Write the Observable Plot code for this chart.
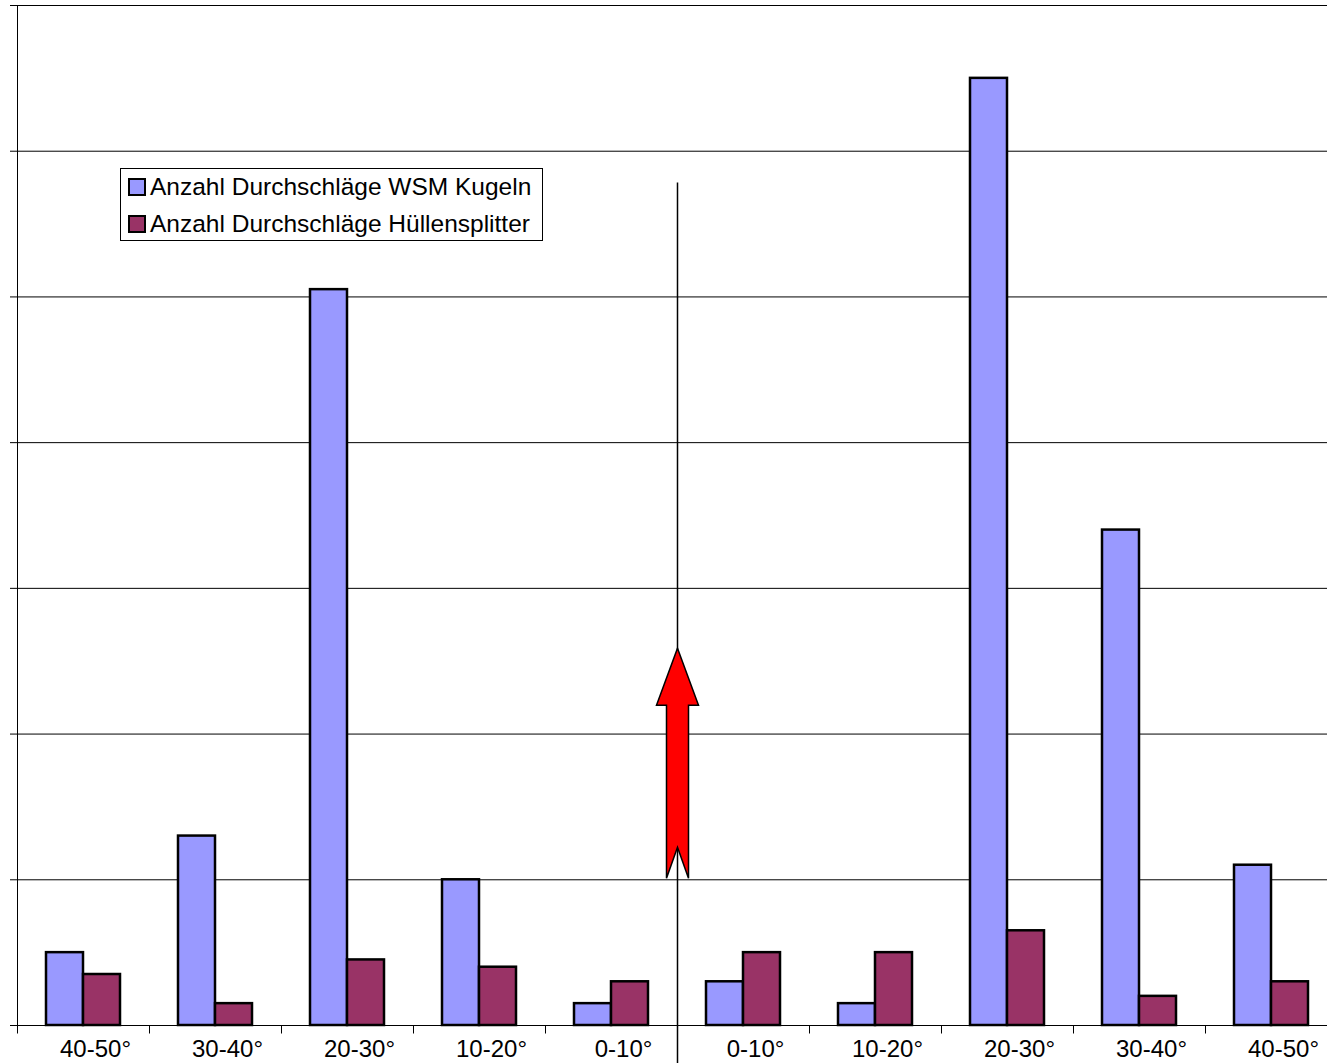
<!DOCTYPE html>
<html>
<head>
<meta charset="utf-8">
<script src="https://cdn.jsdelivr.net/npm/d3@7"></script>
<script src="https://cdn.jsdelivr.net/npm/@observablehq/plot@0.6"></script>
<style>
  html, body { margin: 0; padding: 0; background: #fff; overflow: hidden; }
  #wrap { position: relative; width: 1327px; height: 1063px; overflow: hidden; }
  #legend { position: absolute; left: 120px; top: 168px; width: 421px; height: 71px;
            border: 1px solid #000; background: #fff;
            font: 24.5px "Liberation Sans", Arial, sans-serif; color: #000; }
  .item { position: absolute; left: 7px; height: 30px; display: flex; align-items: center; white-space: nowrap; }
  .sw { width: 14px; height: 14px; border: 2px solid #000; margin-right: 4px; }
</style>
</head>
<body>
<div id="wrap">
  <div id="chart"></div>
  <div id="legend"></div>
</div>
<script>
// ---- data ----
const labels = ["40-50°", "30-40°", "20-30°", "10-20°", "0-10°", "0-10°", "10-20°", "20-30°", "30-40°", "40-50°"];
const wsm    = [10, 26, 101, 20, 3, 6, 3, 130, 68, 22];
const huelle = [7, 3, 9, 8, 6, 10, 10, 13, 4, 6];
const seriesNames = ["Anzahl Durchschläge WSM Kugeln", "Anzahl Durchschläge Hüllensplitter"];
const seriesColors = ["#9999FF", "#993366"];
const yTicks = [0, 20, 40, 60, 80, 100, 120, 140];
// annotation (value units): centre line extent and arrow centre, at the boundary before category index 5
const centerIndex = 5;
const centerLine = [115.7, -5.2];
const arrowCenter = 36;
const tickDepth = -1.1;

// ---- build tables ----
const rows = labels.flatMap((l, i) => [
  {i, series: seriesNames[0], value: wsm[i]},
  {i, series: seriesNames[1], value: huelle[i]}
]);
const cats = labels.map((label, i) => ({i, label}));

const W = 1340, H = 1063, ML = 15, MR = 2, MT = 5, MB = 38;
const yMax = 140;
const pxPerUnit = (H - MT - MB) / yMax;

// vertical line symbol, drawn downward from the anchor point
const vline = (units) => ({
  draw(ctx) { ctx.moveTo(0, 0); ctx.lineTo(0, units * pxPerUnit); }
});

// block arrow symbol
const arrowSymbol = {
  draw(ctx) {
    ctx.moveTo(0, -115);
    ctx.lineTo(21, -58);
    ctx.lineTo(11, -58);
    ctx.lineTo(11, 115);
    ctx.lineTo(0, 84);
    ctx.lineTo(-11, 115);
    ctx.lineTo(-11, -58);
    ctx.lineTo(-21, -58);
    ctx.closePath();
  }
};

const chart = Plot.plot({
  width: W, height: H,
  marginTop: MT, marginBottom: MB, marginLeft: ML, marginRight: MR,
  style: {fontFamily: "'Liberation Sans', Arial, sans-serif", background: "white", maxWidth: "none", color: "#000"},
  fx: {domain: d3.range(labels.length), padding: 0, axis: null},
  x: {domain: seriesNames, paddingInner: 0, paddingOuter: 0.74, axis: null},
  y: {domain: [0, yMax], ticks: yTicks, tickSize: 7, tickFormat: () => "", line: true, label: null},
  color: {domain: seriesNames, range: seriesColors},
  marks: [
    Plot.ruleY(yTicks, {stroke: "#000", strokeWidth: 1}),
    Plot.barY(rows, {fx: "i", x: "series", y: "value", fill: "series", stroke: "#000", strokeWidth: 2.5}),
    Plot.dot(cats, {fx: "i", y: () => 0, frameAnchor: "left", symbol: vline(-tickDepth), r: 1, fill: "none", stroke: "#000", strokeWidth: 1}),
    Plot.text(cats, {fx: "i", text: "label", frameAnchor: "bottom", dy: 31, dx: 12, fontSize: 24, fill: "#000"}),
    Plot.dot([{i: centerIndex, y: centerLine[0]}], {fx: "i", y: "y", frameAnchor: "left", symbol: vline(centerLine[0] - centerLine[1]), r: 1, fill: "none", stroke: "#000", strokeWidth: 1.5}),
    Plot.dot([{i: centerIndex, y: arrowCenter}], {fx: "i", y: "y", frameAnchor: "left", symbol: arrowSymbol, r: 1, fill: "#FF0000", stroke: "#000", strokeWidth: 1.5})
  ]
});
document.getElementById("chart").appendChild(chart);

// legend
const legend = document.getElementById("legend");
seriesNames.forEach((name, k) => {
  const it = document.createElement("div");
  it.className = "item";
  it.style.top = (3 + k * 37) + "px";
  const sw = document.createElement("div");
  sw.className = "sw";
  sw.style.background = seriesColors[k];
  const tx = document.createElement("span");
  tx.textContent = name;
  it.appendChild(sw); it.appendChild(tx);
  legend.appendChild(it);
});
</script>
</body>
</html>
